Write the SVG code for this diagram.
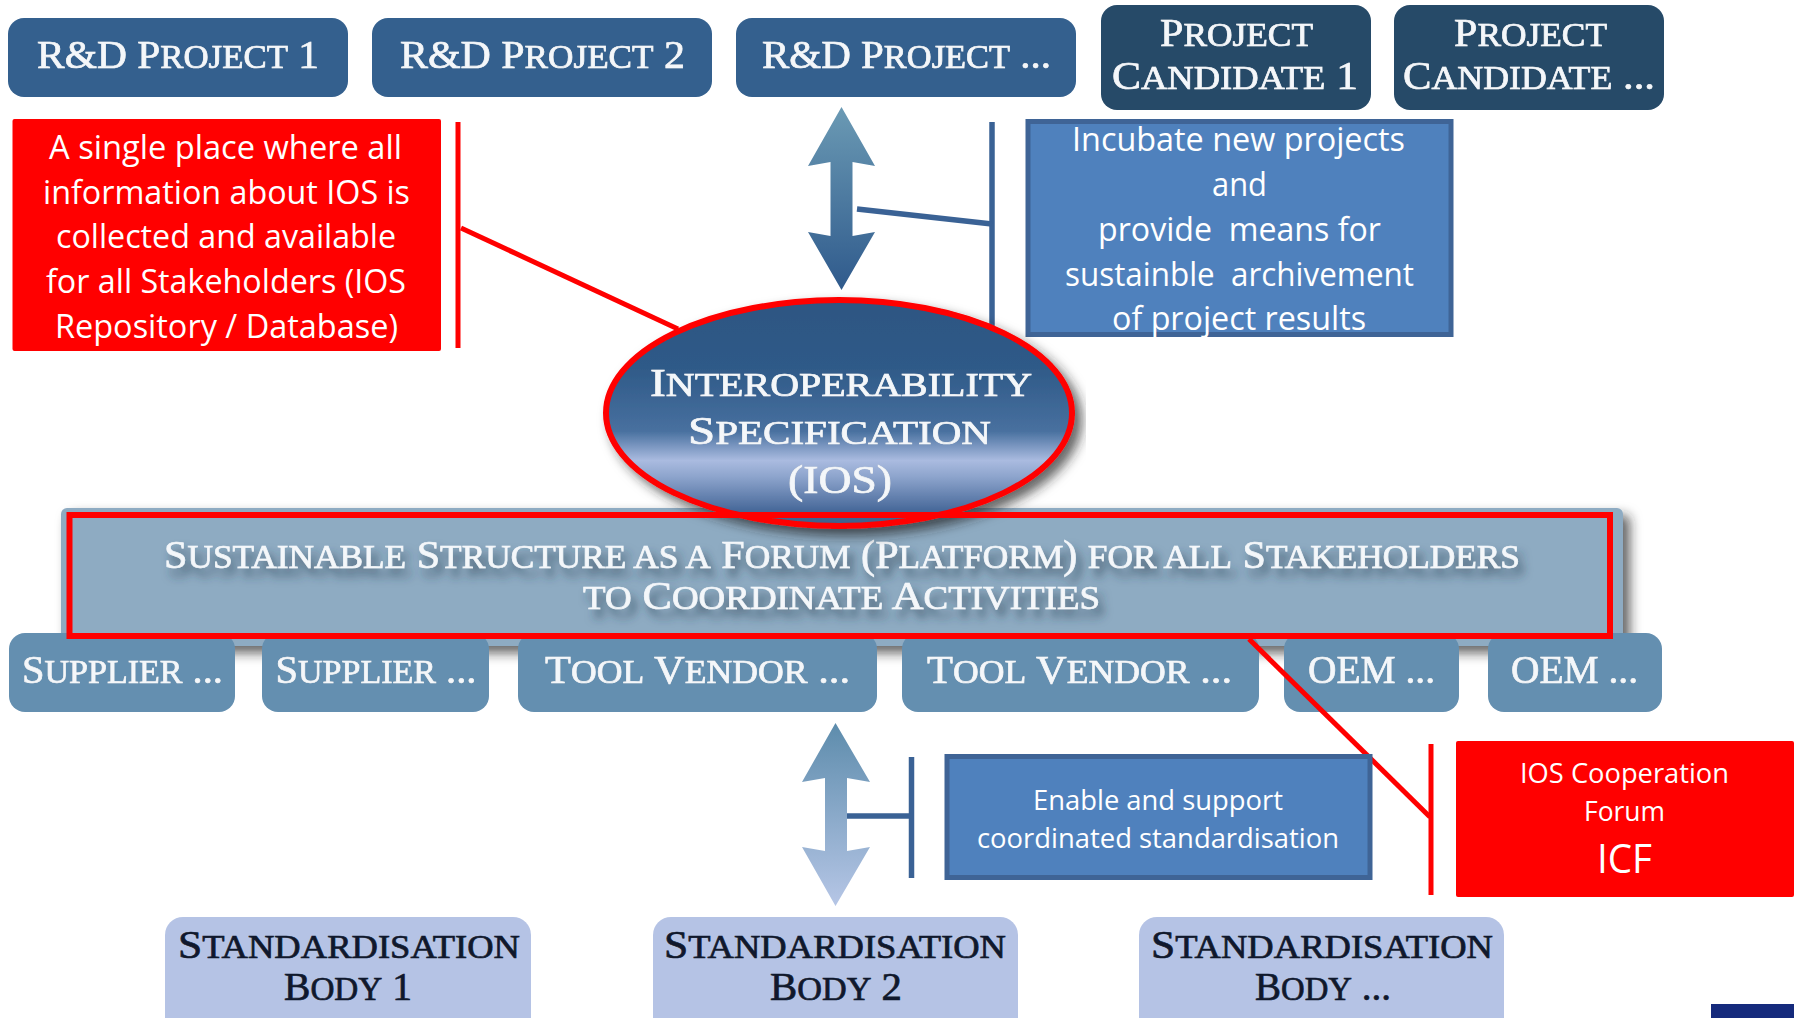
<svg xmlns="http://www.w3.org/2000/svg" width="1794" height="1018" viewBox="0 0 1794 1018">
<style>
.t{font-family:"Liberation Serif","Times New Roman",serif;text-anchor:start}
.n{font-size:40px;fill:#f4f7fa;stroke:#f4f7fa;stroke-width:.7px;filter:url(#glow)}
.d{fill:#10182c;stroke:#10182c;filter:none}
.sc{font-size:.84em}
.c{font-family:"Open Sans","Liberation Sans",sans-serif;fill:#fff;font-size:33px;text-anchor:start}
.rd{fill:#34608e}.cand{fill:#264a68}.sup{fill:#648fb0}.std{fill:#b5c3e5}
.red{fill:#f00}
.rl{stroke:#f00;stroke-width:5;fill:none}
.bl{stroke:#3a6295;stroke-width:5.500;fill:none}
.bb{fill:#4f81bd;stroke:#3f6496;stroke-width:5}
</style>
<defs>
<filter id="glow" x="-5%" y="-20%" width="110%" height="140%"><feDropShadow dx="0" dy="0" stdDeviation="0.6" flood-color="#0c2438" flood-opacity=".5"/></filter>
<filter id="tsh" x="-5%" y="-30%" width="110%" height="190%"><feDropShadow dx="5" dy="8" stdDeviation="5" flood-color="#2a3c50" flood-opacity=".75"/></filter>
<filter id="bsh" x="-3%" y="-10%" width="106%" height="125%"><feDropShadow dx="7" dy="7" stdDeviation="6" flood-color="#222" flood-opacity=".7"/></filter>
<linearGradient id="ell" x1="0" y1="0" x2="0" y2="1">
<stop offset="0" stop-color="#2d5682"/><stop offset=".3" stop-color="#2f5a88"/><stop offset=".58" stop-color="#48709f"/><stop offset=".71" stop-color="#aabbe0"/><stop offset=".78" stop-color="#8ea5cd"/><stop offset=".93" stop-color="#48699a"/><stop offset="1" stop-color="#3c6088"/>
</linearGradient>
<linearGradient id="ar1" x1="0" y1="0" x2="0" y2="1"><stop offset="0" stop-color="#6b9ab4"/><stop offset="1" stop-color="#2f5a8c"/></linearGradient>
<linearGradient id="ar2" x1="0" y1="0" x2="0" y2="1"><stop offset="0" stop-color="#5d8cac"/><stop offset="1" stop-color="#b6c6e6"/></linearGradient>
</defs>
<rect width="1794" height="1018" fill="#fff"/>

<g id="platform-back"><rect x="61" y="508" width="1562" height="138" rx="6" fill="#8eabc2" filter="url(#bsh)"/></g>

<g id="connectors">
<path class="rl" d="M458 122V348"/>
<path class="rl" d="M461 228L678 329"/>
<path class="bl" d="M992 122V334"/>
<path class="bl" d="M857 209L992 224"/>
<path class="bl" d="M911.500 757V878"/>
<path class="bl" d="M844 816H911"/>
</g>

<g id="arrow-top"><path fill="url(#ar1)" d="M841.500 107L875 166L852.500 162V236L875 232L841.500 290L808 232L830.500 236V162L808 166Z"/></g>
<g id="arrow-bottom"><path fill="url(#ar2)" d="M835.500 723L870 782L847 778V851L870 847L835.500 906L802 847L825 851V778L802 782Z"/></g>

<g id="rd1"><rect class="rd" x="8" y="18" width="340" height="79" rx="16"/><text class="t n" x="37" y="68" textLength="282" lengthAdjust="spacingAndGlyphs">R&amp;D P<tspan class="sc">ROJECT</tspan> 1</text></g>
<g id="rd2"><rect class="rd" x="372" y="18" width="340" height="79" rx="16"/><text class="t n" x="400" y="68" textLength="285" lengthAdjust="spacingAndGlyphs">R&amp;D P<tspan class="sc">ROJECT</tspan> 2</text></g>
<g id="rd3"><rect class="rd" x="736" y="18" width="340" height="79" rx="16"/><text class="t n" x="762" y="68" textLength="289" lengthAdjust="spacingAndGlyphs">R&amp;D P<tspan class="sc">ROJECT</tspan> ...</text></g>
<g id="cand1"><rect class="cand" x="1101" y="5" width="270" height="105" rx="16"/><text class="t n" x="1160" y="46" textLength="153" lengthAdjust="spacingAndGlyphs">P<tspan class="sc">ROJECT</tspan></text><text class="t n" x="1112" y="89" textLength="246" lengthAdjust="spacingAndGlyphs">C<tspan class="sc">ANDIDATE</tspan> 1</text></g>
<g id="cand2"><rect class="cand" x="1394" y="5" width="270" height="105" rx="16"/><text class="t n" x="1454" y="46" textLength="153" lengthAdjust="spacingAndGlyphs">P<tspan class="sc">ROJECT</tspan></text><text class="t n" x="1403" y="89" textLength="252" lengthAdjust="spacingAndGlyphs">C<tspan class="sc">ANDIDATE</tspan> ...</text></g>

<g id="note-repository"><rect class="red" x="12.500" y="119" width="428.500" height="232" rx="2"/>
<text class="c" x="49" y="159" textLength="353" lengthAdjust="spacingAndGlyphs">A single place where all</text>
<text class="c" x="43" y="204" textLength="367" lengthAdjust="spacingAndGlyphs">information about IOS is</text>
<text class="c" x="56" y="248" textLength="340" lengthAdjust="spacingAndGlyphs">collected and available</text>
<text class="c" x="46" y="293" textLength="360" lengthAdjust="spacingAndGlyphs">for all Stakeholders (IOS</text>
<text class="c" x="55" y="338" textLength="343" lengthAdjust="spacingAndGlyphs">Repository / Database)</text></g>

<g id="note-incubate"><rect class="bb" x="1028" y="121.500" width="423" height="213"/>
<text class="c" x="1072" y="151" textLength="333" lengthAdjust="spacingAndGlyphs">Incubate new projects</text>
<text class="c" x="1212" y="196" textLength="55" lengthAdjust="spacingAndGlyphs">and</text>
<text class="c" x="1098" y="241" textLength="283" lengthAdjust="spacingAndGlyphs" xml:space="preserve">provide  means for</text>
<text class="c" x="1065" y="286" textLength="349" lengthAdjust="spacingAndGlyphs" xml:space="preserve">sustainble  archivement</text>
<text class="c" x="1112" y="330" textLength="254" lengthAdjust="spacingAndGlyphs">of project results</text></g>

<g id="supplier1"><rect class="sup" x="9" y="633" width="226" height="79" rx="16"/><text class="t n" x="22" y="683" textLength="201" lengthAdjust="spacingAndGlyphs">S<tspan class="sc">UPPLIER</tspan> ...</text></g>
<g id="supplier2"><rect class="sup" x="262" y="633" width="227" height="79" rx="16"/><text class="t n" x="275.500" y="683" textLength="201" lengthAdjust="spacingAndGlyphs">S<tspan class="sc">UPPLIER</tspan> ...</text></g>
<g id="tool1"><rect class="sup" x="518" y="633" width="359" height="79" rx="16"/><text class="t n" x="545" y="683" textLength="305" lengthAdjust="spacingAndGlyphs">T<tspan class="sc">OOL</tspan> V<tspan class="sc">ENDOR</tspan> ...</text></g>
<g id="tool2"><rect class="sup" x="902" y="633" width="357" height="79" rx="16"/><text class="t n" x="927" y="683" textLength="305" lengthAdjust="spacingAndGlyphs">T<tspan class="sc">OOL</tspan> V<tspan class="sc">ENDOR</tspan> ...</text></g>
<g id="oem1"><rect class="sup" x="1284" y="633" width="175" height="79" rx="16"/><text class="t n" x="1308" y="683" textLength="127" lengthAdjust="spacingAndGlyphs">OEM ...</text></g>
<g id="oem2"><rect class="sup" x="1488" y="633" width="174" height="79" rx="16"/><text class="t n" x="1511" y="683" textLength="127" lengthAdjust="spacingAndGlyphs">OEM ...</text></g>

<g id="platform"><rect x="69.500" y="515" width="1540.500" height="121" fill="#8eabc2"/>
<text class="t n" x="164" y="568" textLength="1356" lengthAdjust="spacingAndGlyphs" style="filter:url(#tsh)">S<tspan class="sc">USTAINABLE</tspan> S<tspan class="sc">TRUCTURE AS A</tspan> F<tspan class="sc">ORUM</tspan> (P<tspan class="sc">LATFORM</tspan>) <tspan class="sc">FOR ALL</tspan> S<tspan class="sc">TAKEHOLDERS</tspan></text>
<text class="t n" x="583" y="609" textLength="517" lengthAdjust="spacingAndGlyphs" style="filter:url(#tsh)"><tspan class="sc">TO</tspan> C<tspan class="sc">OORDINATE</tspan> A<tspan class="sc">CTIVITIES</tspan></text></g>

<g id="ios"><ellipse cx="839" cy="413" rx="233" ry="113" fill="url(#ell)" stroke="#f00" stroke-width="6" filter="url(#bsh)"/>
<text class="t n" x="650" y="396" textLength="382" lengthAdjust="spacingAndGlyphs">I<tspan class="sc">NTEROPERABILITY</tspan></text>
<text class="t n" x="688" y="444" textLength="303" lengthAdjust="spacingAndGlyphs">S<tspan class="sc">PECIFICATION</tspan></text>
<text class="t n" x="788" y="493" textLength="104" lengthAdjust="spacingAndGlyphs">(IOS)</text></g>

<g id="platform-frame"><rect x="69.500" y="515" width="1540.500" height="121" fill="none" stroke="#f00" stroke-width="6"/></g>
<path class="rl" id="connector-icf" d="M1249 639L1430 817"/>

<g id="note-standard"><rect class="bb" x="947" y="756.500" width="423" height="121"/>
<text class="c" x="1033" y="810" textLength="250" lengthAdjust="spacingAndGlyphs" style="font-size:28px">Enable and support</text>
<text class="c" x="977" y="848" textLength="362" lengthAdjust="spacingAndGlyphs" style="font-size:28px">coordinated standardisation</text></g>

<g id="note-icf"><path class="rl" d="M1431 744V895"/><rect class="red" x="1456" y="741" width="338" height="156" rx="2"/>
<text class="c" x="1520" y="783" textLength="209" lengthAdjust="spacingAndGlyphs" style="font-size:28px">IOS Cooperation</text>
<text class="c" x="1584" y="821" textLength="81" lengthAdjust="spacingAndGlyphs" style="font-size:28px">Forum</text>
<text class="c" x="1597" y="873" textLength="55" lengthAdjust="spacingAndGlyphs" style="font-size:40px">ICF</text></g>

<g id="body1"><rect class="std" x="165" y="917" width="366" height="120" rx="18"/><text class="t n d" x="178" y="958" textLength="342" lengthAdjust="spacingAndGlyphs">S<tspan class="sc">TANDARDISATION</tspan></text><text class="t n d" x="284" y="1000" textLength="128" lengthAdjust="spacingAndGlyphs">B<tspan class="sc">ODY</tspan> 1</text></g>
<g id="body2"><rect class="std" x="653" y="917" width="365" height="120" rx="18"/><text class="t n d" x="664" y="958" textLength="342" lengthAdjust="spacingAndGlyphs">S<tspan class="sc">TANDARDISATION</tspan></text><text class="t n d" x="770" y="1000" textLength="132" lengthAdjust="spacingAndGlyphs">B<tspan class="sc">ODY</tspan> 2</text></g>
<g id="body3"><rect class="std" x="1139" y="917" width="365" height="120" rx="18"/><text class="t n d" x="1151" y="958" textLength="342" lengthAdjust="spacingAndGlyphs">S<tspan class="sc">TANDARDISATION</tspan></text><text class="t n d" x="1255" y="1000" textLength="136" lengthAdjust="spacingAndGlyphs">B<tspan class="sc">ODY</tspan> ...</text></g>

<rect x="1711" y="1004" width="83" height="14" fill="#152a7c"/>
</svg>
